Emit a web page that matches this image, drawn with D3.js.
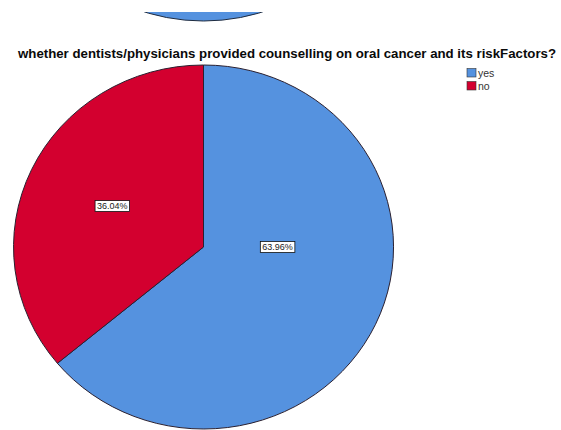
<!DOCTYPE html>
<html><head><meta charset="utf-8">
<script src="https://cdn.jsdelivr.net/npm/d3@7"></script>
<style>html,body{margin:0;padding:0;background:#fff;}svg{display:block;}</style>
</head><body>
<svg id="chart" width="561" height="430"></svg>
<script>
const title = "whether dentists/physicians provided counselling on oral cancer and its riskFactors?";
const categories = ["yes", "no"];
const values = [63.96, 36.04];
const colors = ["#5592DF", "#D3002F"];

const svg = d3.select("#chart");
const W = 561, H = 430;
const cx = 203.5, cy = 247, rx = 190, ry = 182;

// remnant of previous chart at the top
svg.append("clipPath").attr("id","topclip").append("rect").attr("x",0).attr("y",12).attr("width",W).attr("height",20);
svg.append("ellipse").attr("cx",cx).attr("cy",21-ry).attr("rx",rx).attr("ry",ry)
  .attr("fill",colors[0]).attr("stroke","#1e2b40").attr("stroke-width",1)
  .attr("clip-path","url(#topclip)");

// title
svg.append("text").attr("x",287).attr("y",57.5).attr("text-anchor","middle")
  .attr("font-family","Liberation Sans, Arial, sans-serif").attr("font-weight","bold")
  .attr("font-size",13).attr("fill","#0a0a0a")
  .attr("textLength",538).attr("lengthAdjust","spacingAndGlyphs")
  .text(title);

// pie (ellipse via scale)
const pie = d3.pie().sort(null).value(d => d.v)
  .startAngle(0).endAngle(2*Math.PI);
const data = categories.map((c,i)=>({c, v:values[i], color:colors[i]}));
const arcs = pie(data);
const arc = d3.arc().innerRadius(0).outerRadius(1);

const g = svg.append("g").attr("transform",`translate(${cx},${cy}) scale(${rx},${ry})`);
g.selectAll("path").data(arcs).join("path")
  .attr("d", arc).attr("fill", d=>d.data.color)
  .attr("stroke","#2a2030").attr("stroke-width",1).attr("vector-effect","non-scaling-stroke");

// labels
const labelCfg = {yes:{angle:Math.PI/2, r:0.39}, no:{angle:null, r:0.53}};
arcs.forEach(d=>{
  const cfg = labelCfg[d.data.c];
  const a = cfg.angle !== null ? cfg.angle : (d.startAngle + d.endAngle)/2;
  const x = cx + rx*cfg.r*Math.sin(a);
  const y = cy - ry*cfg.r*Math.cos(a);
  const txt = d.data.v.toFixed(2) + "%";
  const t = svg.append("text").attr("x",x).attr("y",y+3.2)
    .attr("text-anchor","middle").attr("font-family","Liberation Sans, Arial, sans-serif")
    .attr("font-size",9).attr("fill","#222").text(txt);
  const bb = t.node().getBBox();
  svg.insert("rect", () => t.node()).attr("x",bb.x-2).attr("y",y-5.5).attr("width",bb.width+4).attr("height",11)
    .attr("fill","#fff").attr("stroke","#111").attr("stroke-width",0.8);
});

// legend
const lg = svg.append("g");
categories.forEach((c,i)=>{
  lg.append("rect").attr("x",467).attr("y",68.5+i*13).attr("width",9).attr("height",8.5)
    .attr("fill",colors[i]).attr("stroke","#333").attr("stroke-width",0.6);
  lg.append("text").attr("x",478).attr("y",77+i*13)
    .attr("font-family","Liberation Sans, Arial, sans-serif").attr("font-size",10.5).attr("fill","#333").text(c);
});
</script>
</body></html>
